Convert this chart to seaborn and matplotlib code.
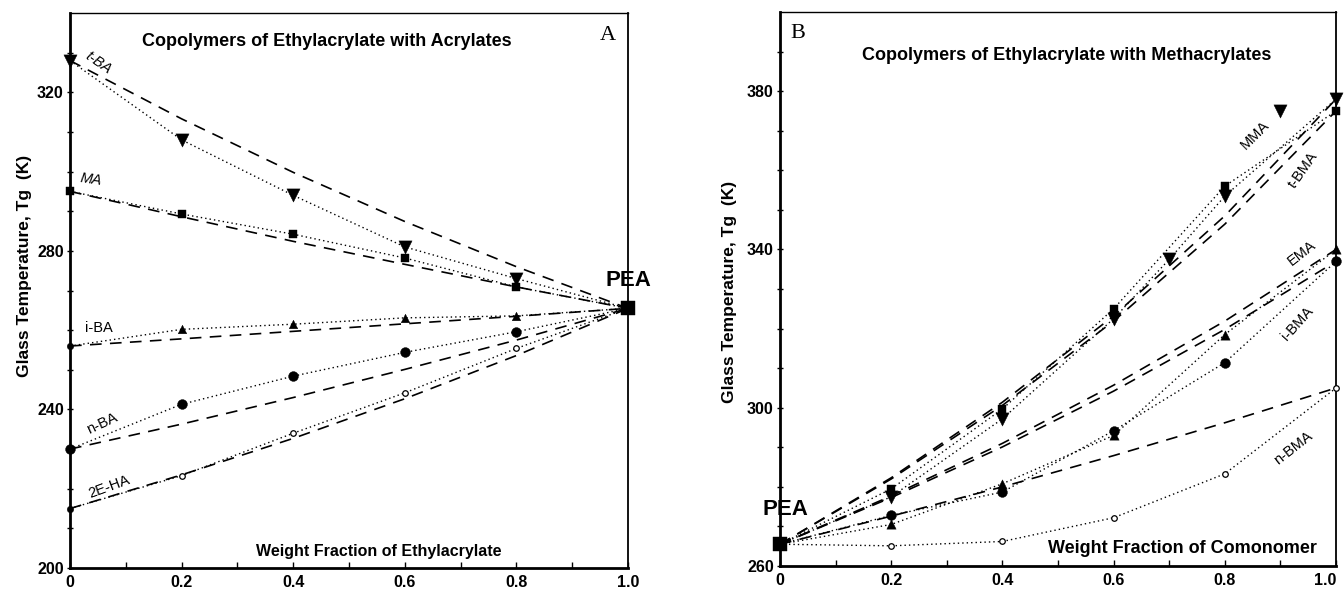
import matplotlib
matplotlib.use("Agg")
import matplotlib.pyplot as plt
import seaborn as sns

# ---------------- Panel A: ethyl acrylate with acrylates ----------------
w_ea = [0.0, 0.2, 0.4, 0.6, 0.8, 1.0]          # weight fraction of ethylacrylate
tg_pea = 265.5                                   # poly(ethyl acrylate)

# measured Tg (K) at w_ea = 0 ... 1.0
tba_tg = [328.0, 308.0, 294.0, 281.0, 273.0, 265.5]
ma_tg = [295.0, 289.3, 284.2, 278.2, 270.9, 265.5]
iba_tg = [256.0, 260.2, 261.5, 263.1, 263.6, 265.5]
nba_tg = [230.0, 241.3, 248.4, 254.4, 259.6, 265.5]
eha_tg = [215.0, 223.3, 234.0, 244.2, 255.4, 265.5]

# Fox-equation predictions (dashed)
tba_fox = [328.0, 313.3, 299.8, 287.4, 276.0, 265.5]
ma_fox = [295.0, 288.6, 282.4, 276.6, 270.9, 265.5]
iba_fox = [256.0, 257.8, 259.7, 261.6, 263.5, 265.5]
nba_fox = [230.0, 236.3, 243.0, 250.1, 257.5, 265.5]
eha_fox = [215.0, 223.5, 232.7, 242.7, 253.6, 265.5]

acr_names = ["t-BA", "MA", "i-BA", "n-BA", "2E-HA"]

# ---------------- Panel B: ethyl acrylate with methacrylates ----------------
w_c = [0.0, 0.2, 0.4, 0.6, 0.8, 1.0]           # weight fraction of comonomer

mma_x = [0.2, 0.4, 0.6, 0.7, 0.8, 0.9, 1.0]
mma_tg = [277.5, 297.2, 322.5, 337.5, 353.5, 375.0, 378.0]
mma_fit_x = [0.0, 0.2, 0.4, 0.6, 0.7, 0.8, 1.0]
mma_fit = [265.5, 277.5, 297.2, 322.5, 337.5, 353.5, 378.0]
tbma_tg = [265.5, 279.5, 299.7, 325.0, 356.0, 375.0]
ema_tg = [265.5, 270.5, 280.8, 293.0, 318.5, 340.0]
ibma_tg = [265.5, 272.8, 278.7, 294.2, 311.4, 337.0]
nbma_tg = [265.5, 265.1, 266.2, 272.2, 283.3, 305.0]

mma_fox = [265.5, 282.3, 301.4, 323.2, 348.5, 378.0]
tbma_fox = [265.5, 282.0, 300.6, 321.9, 346.4, 375.0]
ema_fox = [265.5, 277.7, 291.0, 305.7, 321.9, 340.0]
ibma_fox = [265.5, 277.3, 290.1, 304.2, 319.8, 337.0]
nbma_fox = [265.5, 272.6, 280.0, 287.9, 296.2, 305.0]

x_ticks = [0.0, 0.2, 0.4, 0.6, 0.8, 1.0]
x_ticklabels = ["0", "0.2", "0.4", "0.6", "0.8", "1.0"]

sns.set_theme(style="ticks")
plt.rcParams["font.family"] = ["Liberation Sans", "DejaVu Sans"]
plt.rcParams.update({"text.color": "black", "axes.labelcolor": "black",
                     "xtick.color": "black", "ytick.color": "black",
                     "axes.edgecolor": "black"})

DOT = (0, (1.0, 2.2))
DASH = (0, (7.0, 5.0))

fig = plt.figure(figsize=(13.44, 5.91), dpi=100)
axA = fig.add_axes([0.0521, 0.0389, 0.4152, 0.9391])
axB = fig.add_axes([0.5804, 0.0423, 0.4137, 0.9374])


def dotted(ax, x, y):
    sns.lineplot(x=x, y=y, ax=ax, color="black", lw=1.0, linestyle=DOT,
                 sort=False, estimator=None, legend=False)


def dashed(ax, x, y):
    sns.lineplot(x=x, y=y, ax=ax, color="black", lw=1.2, linestyle=DASH,
                 sort=False, estimator=None, legend=False)


def points(ax, x, y, marker, s, open_=False):
    if open_:
        sns.scatterplot(x=x, y=y, ax=ax, marker=marker, s=s, color="white",
                        edgecolor="black", linewidth=0.9, zorder=4,
                        clip_on=False, legend=False)
    else:
        sns.scatterplot(x=x, y=y, ax=ax, marker=marker, s=s, color="black",
                        edgecolor="black", linewidth=0.3, zorder=4,
                        clip_on=False, legend=False)


def style_axes(ax, ylim, yticks, yminor):
    ax.set_xlim(0, 1.0)
    ax.set_ylim(*ylim)
    ax.set_xticks(x_ticks)
    ax.set_xticklabels(x_ticklabels)
    ax.set_xticks([0.1, 0.3, 0.5, 0.7, 0.9], minor=True)
    ax.set_yticks(yticks)
    ax.set_yticks(yminor, minor=True)
    ax.tick_params(axis="y", which="both", direction="inout", length=5,
                   width=1.0, labelsize=11.5, pad=2)
    ax.tick_params(axis="x", which="both", direction="in", length=4,
                   width=1.0, labelsize=11.5, pad=5)
    for lab in ax.get_xticklabels() + ax.get_yticklabels():
        lab.set_fontweight("bold")
    for side, lw in (("left", 2.0), ("bottom", 2.0), ("right", 1.3), ("top", 1.0)):
        ax.spines[side].set_visible(True)
        ax.spines[side].set_linewidth(lw)
        ax.spines[side].set_color("black")
    ax.set_xlabel("")
    ax.set_ylabel("Glass Temperature, Tg  (K)", fontsize=12.5,
                  fontweight="bold")


# ---- panel A ----
acr_tg = [tba_tg, ma_tg, iba_tg, nba_tg, eha_tg]
acr_fox = [tba_fox, ma_fox, iba_fox, nba_fox, eha_fox]
for tg, fox in zip(acr_tg, acr_fox):
    dotted(axA, w_ea, tg)
    dashed(axA, w_ea, fox)

points(axA, w_ea[:5], tba_tg[:5], "v", 90)
points(axA, w_ea[:5], ma_tg[:5], "s", 28)
points(axA, w_ea[1:5], iba_tg[1:5], "^", 38)
points(axA, w_ea[:5], nba_tg[:5], "o", 50)
points(axA, w_ea[1:5], eha_tg[1:5], "o", 16, open_=True)
points(axA, [0.0, 0.0], [iba_tg[0], eha_tg[0]], "o", 22)
points(axA, [1.0], [tg_pea], "s", 110)

style_axes(axA, (200, 340), [200, 240, 280, 320],
           [210, 220, 230, 250, 260, 270, 290, 300, 310, 330])
axA.yaxis.set_label_coords(-0.069, 0.544)

axA.text(0.461, 0.948, "Copolymers of Ethylacrylate with Acrylates",
         transform=axA.transAxes, ha="center", va="center",
         fontsize=13, fontweight="bold")
axA.text(0.964, 0.960, "A", transform=axA.transAxes, ha="center", va="center",
         fontsize=16, family="Liberation Serif")
axA.text(0.553, 0.029, "Weight Fraction of Ethylacrylate",
         transform=axA.transAxes, ha="center", va="center",
         fontsize=11.5, fontweight="bold")
axA.text(1.0, 272.6, "PEA", ha="center", va="center", fontsize=16,
         fontweight="bold", clip_on=False, zorder=6)

acr_label_pos = [(0.050, 327.4, -35, "italic"), (0.038, 298.0, -8, "italic"),
                 (0.052, 260.6, 0, "normal"), (0.058, 236.4, 25, "normal"),
                 (0.071, 220.4, 20, "normal")]
for name, (lx, ly, rot, sty) in zip(acr_names, acr_label_pos):
    axA.text(lx, ly, name, ha="center", va="center", rotation=rot,
             fontsize=10.5, fontstyle=sty, rotation_mode="anchor")

# ---- panel B ----
dotted(axB, mma_fit_x, mma_fit)
for tg in (tbma_tg, ema_tg, ibma_tg, nbma_tg):
    dotted(axB, w_c, tg)
for fox in (mma_fox, tbma_fox, ema_fox, ibma_fox, nbma_fox):
    dashed(axB, w_c, fox)

points(axB, w_c[1:], tbma_tg[1:], "s", 28)
points(axB, mma_x, mma_tg, "v", 90)
points(axB, w_c[1:], ema_tg[1:], "^", 45)
points(axB, w_c[1:], ibma_tg[1:], "o", 50)
points(axB, w_c[1:], nbma_tg[1:], "o", 16, open_=True)
points(axB, [0.0], [tg_pea], "s", 110)

style_axes(axB, (260, 400), [260, 300, 340, 380],
           [270, 280, 290, 310, 320, 330, 350, 360, 370, 390])
axB.yaxis.set_label_coords(-0.078, 0.495)
# keep the last tick label inside the figure edge
axB.get_xticklabels()[-1].set_horizontalalignment("right")

axB.text(0.516, 0.922, "Copolymers of Ethylacrylate with Methacrylates",
         transform=axB.transAxes, ha="center", va="center",
         fontsize=13, fontweight="bold")
axB.text(0.032, 0.962, "B", transform=axB.transAxes, ha="center",
         va="center", fontsize=16, family="Liberation Serif")
axB.text(0.723, 0.032, "Weight Fraction of Comonomer",
         transform=axB.transAxes, ha="center", va="center",
         fontsize=13, fontweight="bold")
axB.text(0.009, 274.2, "PEA", ha="center", va="center", fontsize=16,
         fontweight="bold", clip_on=False, zorder=6)

meth_labels = [("MMA", 0.854, 368.9, 45), ("t-BMA", 0.941, 360.1, 55),
               ("EMA", 0.939, 339.2, 38), ("i-BMA", 0.930, 321.4, 48),
               ("n-BMA", 0.923, 289.7, 38)]
for name, lx, ly, rot in meth_labels:
    axB.text(lx, ly, name, ha="center", va="center", rotation=rot,
             fontsize=10.5, rotation_mode="anchor")

fig.savefig("out.png", dpi=100, facecolor="white")
